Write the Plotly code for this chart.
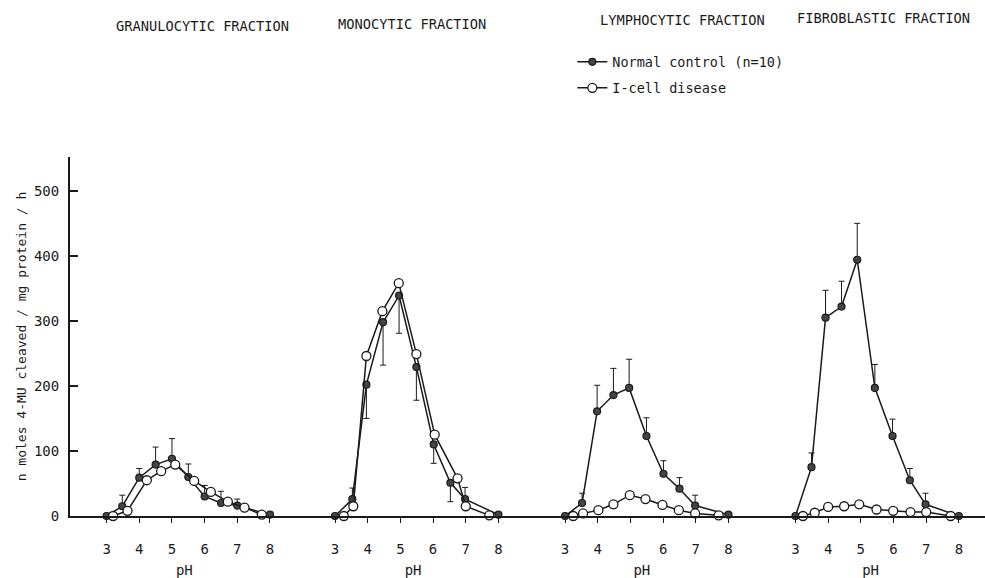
import plotly.graph_objects as go
from plotly.subplots import make_subplots

panels = ["GRANULOCYTIC FRACTION", "MONOCYTIC FRACTION", "LYMPHOCYTIC FRACTION", "FIBROBLASTIC FRACTION"]

# Normal control (n=10): pH, activity, error bars (+ / -)
normal_ph = [
    [3.0, 3.48, 4.0, 4.5, 5.0, 5.5, 6.0, 6.5, 7.0, 8.0],
    [3.0, 3.53, 3.96, 4.47, 4.96, 5.49, 6.02, 6.53, 6.98, 8.0],
    [3.0, 3.52, 3.98, 4.48, 4.96, 5.49, 6.01, 6.5, 6.98, 8.0],
    [3.0, 3.49, 3.92, 4.41, 4.89, 5.43, 5.97, 6.5, 6.98, 8.0],
]
normal_val = [
    [0, 15, 59, 79, 88, 60, 30, 20, 16, 2],
    [0, 26, 202, 298, 339, 229, 110, 51, 26, 2],
    [0, 20, 161, 186, 197, 123, 65, 42, 16, 2],
    [0, 75, 305, 322, 394, 197, 123, 55, 18, 0],
]
normal_err_plus = [
    [0, 17, 14, 27, 31, 20, 17, 18, 10, 0],
    [0, 17, 0, 0, 0, 0, 0, 0, 18, 0],
    [0, 15, 40, 41, 44, 28, 20, 17, 16, 0],
    [0, 22, 42, 39, 56, 36, 26, 18, 17, 0],
]
normal_err_minus = [
    [0, 0, 0, 0, 0, 0, 0, 0, 0, 0],
    [0, 0, 52, 66, 58, 51, 29, 29, 0, 0],
    [0, 0, 0, 0, 0, 0, 0, 0, 0, 0],
    [0, 0, 0, 0, 0, 0, 0, 0, 0, 0],
]

# I-cell disease
icell_ph = [
    [3.2, 3.64, 4.23, 4.67, 5.1, 5.68, 6.19, 6.71, 7.22, 7.75],
    [3.27, 3.56, 3.96, 4.45, 4.95, 5.49, 6.05, 6.75, 7.0, 7.72],
    [3.25, 3.55, 4.02, 4.48, 4.98, 5.46, 5.98, 6.48, 6.98, 7.7],
    [3.23, 3.59, 4.0, 4.49, 4.95, 5.48, 5.99, 6.52, 7.0, 7.75],
]
icell_val = [
    [0, 8, 55, 69, 79, 54, 37, 22, 13, 2],
    [0, 15, 246, 315, 358, 249, 125, 58, 15, 1],
    [0, 4, 9, 18, 32, 26, 17, 9, 4, 1],
    [0, 5, 14, 15, 18, 10, 8, 6, 6, 0],
]

x_ticks = [3, 4, 5, 6, 7, 8]
y_ticks = [0, 100, 200, 300, 400, 500]
x_starts = [1.88, 1.89, 1.85, 1.80]

FONT = "DejaVu Sans Mono"
INK = "#1a1a1a"

fig = make_subplots(rows=1, cols=4, shared_yaxes=True, horizontal_spacing=0)

for i in range(4):
    col = i + 1
    fig.add_trace(go.Scatter(
        x=normal_ph[i], y=normal_val[i], mode="lines+markers",
        name="Normal control (n=10)", legend="legend",
        showlegend=(i == 0), cliponaxis=False,
        line=dict(color=INK, width=1.5),
        marker=dict(symbol="circle", size=7, color="#444444", line=dict(color=INK, width=1.2)),
        error_y=dict(type="data", symmetric=False, array=normal_err_plus[i],
                     arrayminus=normal_err_minus[i], color=INK, thickness=1, width=3),
    ), row=1, col=col)
    fig.add_trace(go.Scatter(
        x=icell_ph[i], y=icell_val[i], mode="lines+markers",
        name="I-cell disease", legend="legend2",
        showlegend=(i == 0), cliponaxis=False,
        line=dict(color=INK, width=1.5),
        marker=dict(symbol="circle", size=9, color="white", line=dict(color=INK, width=1.3)),
    ), row=1, col=col)

for i in range(4):
    key = "xaxis" if i == 0 else f"xaxis{i+1}"
    fig.layout[key].update(
        domain=[i * 0.25, (i + 1) * 0.25],
        range=[x_starts[i], x_starts[i] + 7.0],
        tickvals=x_ticks, ticktext=[str(t) for t in x_ticks],
        ticks="outside", ticklen=5, tickwidth=1.2, tickcolor=INK,
        ticklabelstandoff=14,
        showline=True, linecolor=INK, linewidth=2,
        showgrid=False, zeroline=False, automargin=False,
        tickfont=dict(family=FONT, size=14, color=INK),
        title=dict(text="pH", font=dict(family=FONT, size=14, color=INK), standoff=10),
    )

fig.update_yaxes(
    range=[0, 552], showgrid=False, zeroline=False, automargin=False,
    showline=False, ticks="", showticklabels=False,
)
fig.layout.yaxis.update(
    tickvals=y_ticks, ticktext=[str(t) for t in y_ticks],
    ticks="inside", ticklen=8, tickwidth=1.5, tickcolor=INK,
    showline=True, linecolor=INK, linewidth=2, showticklabels=True,
    ticklabelstandoff=6,
    tickfont=dict(family=FONT, size=14, color=INK),
    title=dict(text="n moles 4-MU cleaved / mg protein / h",
               font=dict(family=FONT, size=13, color=INK), standoff=4),
)

title_x = [0.1443, 0.3738, 0.6689, 0.8896]
title_y = [1.365, 1.370, 1.3816, 1.387]
for t, xp, yp in zip(panels, title_x, title_y):
    fig.add_annotation(text=t, x=xp, y=yp, xref="paper", yref="paper",
                       showarrow=False, xanchor="center", yanchor="middle",
                       font=dict(family=FONT, size=13.7, color=INK))

fig.update_layout(
    width=985, height=578,
    margin=dict(l=70, r=0, t=157, b=62, autoexpand=False),
    paper_bgcolor="white", plot_bgcolor="white",
    font=dict(family=FONT, color=INK),
    legend=dict(x=0.549, y=1.2646, xanchor="left", yanchor="middle",
                bgcolor="rgba(0,0,0,0)", font=dict(family=FONT, size=13.5, color=INK)),
    legend2=dict(x=0.549, y=1.192, xanchor="left", yanchor="middle",
                 bgcolor="rgba(0,0,0,0)", font=dict(family=FONT, size=13.5, color=INK)),
)

fig.write_html("out.html",
               config={"displayModeBar": False},
               post_script="document.body.style.margin='0';document.body.style.overflow='hidden';")
